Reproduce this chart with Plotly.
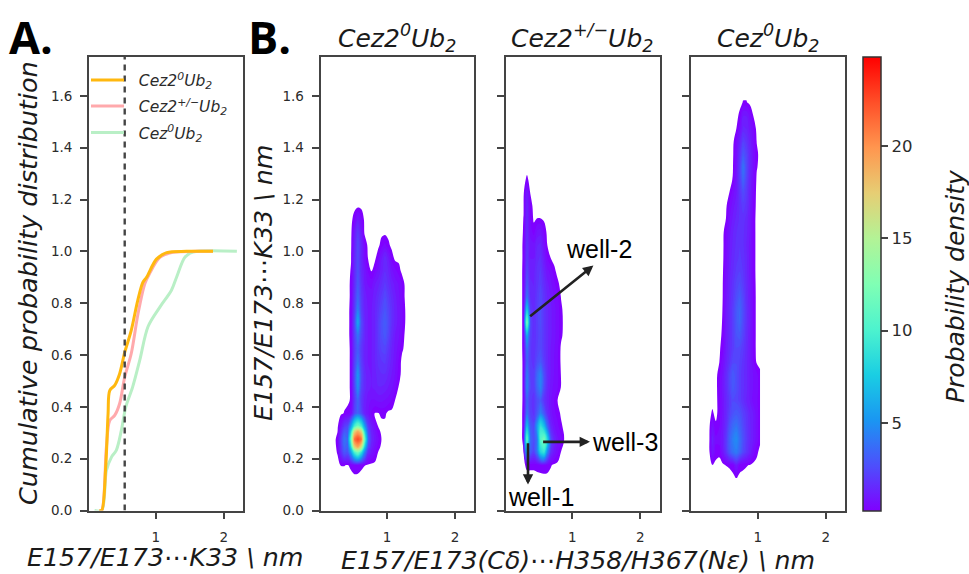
import plotly.graph_objects as go

W, H = 969, 574
FONT = "DejaVu Sans"
TXT = "#2b2b2b"

# --- panel A: cumulative curves
names = ["<i>Cez2<sup>0</sup>Ub<sub>2</sub></i>", "<i>Cez2<sup>+/−</sup>Ub<sub>2</sub></i>", "<i>Cez<sup>0</sup>Ub<sub>2</sub></i>"]
titles = names
cdf_colors = ["#FFB80F", "#FFA9AC", "#B9EFC6"]
cdf_x0 = [0.17, 0.206, 0.265, 0.30, 0.324, 0.397, 0.47, 0.544, 0.64, 0.735, 0.81, 0.865, 1.01, 1.16, 1.45, 1.84]
cdf_y0 = [0.0, 0.0, 0.167, 0.374, 0.463, 0.483, 0.528, 0.61, 0.695, 0.81, 0.88, 0.90, 0.97, 0.995, 1.0, 1.0]
cdf_x1 = [0.17, 0.206, 0.275, 0.324, 0.397, 0.47, 0.544, 0.64, 0.74, 0.84, 0.91, 1.06, 1.25, 1.6, 1.84]
cdf_y1 = [0.0, 0.0, 0.244, 0.347, 0.367, 0.413, 0.515, 0.606, 0.76, 0.876, 0.915, 0.977, 0.996, 1.0, 1.0]
cdf_x2 = [0.10, 0.206, 0.275, 0.35, 0.42, 0.495, 0.56, 0.66, 0.765, 0.887, 1.06, 1.23, 1.305, 1.43, 1.545, 2.19]
cdf_y2 = [0.0, 0.0, 0.154, 0.206, 0.232, 0.309, 0.40, 0.476, 0.58, 0.71, 0.785, 0.85, 0.90, 0.978, 0.997, 1.0]
cutoff_x = [0.544, 0.544]
cutoff_y = [0.0, 1.75]

# --- panel B: density grids (rows bottom to top)
rows_y = [0.125 + 0.05 * i for i in range(31)]

x_a = [.22, .27, .32, .37, .42, .47, .52, .57, .62, .67, .72, .77, .82, .87, .92, .97, 1.02, 1.07, 1.12, 1.17, 1.22, 1.27, 1.32]
y_a = [.125, .175, .225, .245, .275, .305, .325, .375, .425, .475, .525, .575, .625, .675, .725, .775, .825, .875, .925, .975, 1.025, 1.075, 1.125, 1.175]
z_a = [
    [],
    [0, 0, .13, .13, .1, .2, .4, .35, .2, .13, .05],
    [0, .15, 1.6, 3, 2.8, 5.5, 10, 12, 9, 4.5, 1.6, .9, .5, .1],
    [0, .2, 1.8, 3.5, 3.2, 8, 17, 19, 16, 7.5, 2.6, 1.2, .7, .3],
    [0, .25, 2, 4, 3.5, 11, 21, 22.5, 21, 11, 3.5, 1.5, .9, .5, .1],
    [0, .1, 1.4, 3, 3, 8, 17, 19, 17, 8, 2.8, 1.3, .8, .3],
    [0, 0, .9, 2, 2.5, 5.5, 10, 12, 10, 5.5, 2.2, 1.1, .6, .1],
    [0, 0, .02, .15, .3, .6, 2.5, 3.5, 2.5, 1.2, .8, .4, .1, .1, .2, .2],
    [0, 0, 0, 0, 0, .2, 2, 3.5, 2, 1.2, .9, .7, .7, .8, .8, .7, .6, .4, .1],
    [0, 0, 0, 0, 0, .2, 2.3, 5, 2.3, 1.5, 1.1, 1, 1.1, 1.3, 1.3, 1.2, 1, .8, .5, .1],
    [0, 0, 0, 0, 0, .2, 2.5, 5.3, 2.5, 1.5, 1.1, 1, 1.2, 1.5, 1.6, 1.6, 1.3, 1, .7, .3],
    [0, 0, 0, 0, 0, .2, 2.2, 3.8, 2.2, 1.3, 1, 1, 1.3, 1.7, 1.9, 2, 1.6, 1.2, .8, .4],
    [0, 0, 0, 0, 0, .2, 2, 3.2, 2, 1.3, 1, 1, 1.3, 1.9, 2.3, 2.4, 1.9, 1.3, .9, .6, .2],
    [0, 0, 0, 0, 0, .25, 2.2, 4, 2.4, 1.4, 1, 1, 1.3, 2, 2.6, 3, 2.3, 1.5, 1, .8, .4],
    [0, 0, 0, 0, 0, .25, 2.4, 6, 2.6, 1.4, 1, 1, 1.3, 2, 2.7, 3.2, 2.5, 1.7, 1.2, .9, .5, .1],
    [0, 0, 0, 0, 0, .25, 2, 4.5, 2.2, 1.3, 1, 1, 1.3, 1.8, 2.4, 2.9, 2.3, 1.7, 1.2, .9, .5, .1],
    [0, 0, 0, 0, 0, .2, 1.8, 3.5, 2, 1.2, .9, .9, 1.2, 1.6, 2, 2.5, 2, 1.5, 1.1, .8, .5],
    [0, 0, 0, 0, 0, .2, 1.5, 3, 1.8, 1, .7, .6, 1, 1.2, 1.6, 2, 1.6, 1.2, .9, .7, .4],
    [0, 0, 0, 0, 0, .15, 1.5, 2.7, 1.5, .9, .4, .1, .4, .8, 1.2, 1.6, 1.3, .8, .5, .3],
    [0, 0, 0, 0, 0, .1, 1.5, 2.5, 1.4, .6, .1, 0, 0, .4, 1, 1.5, 1, .3],
    [0, 0, 0, 0, 0, .05, 1.2, 2.5, 1.4, .5, 0, 0, 0, 0, .3, .5, .2],
    [0, 0, 0, 0, 0, 0, 1, 2, 1],
    [0, 0, 0, 0, 0, 0, .3, 1, .5],
    [],
]

x_b = [.235, .285, .335, .385, .435, .485, .535, .585, .635, .685, .735, .785, .835, .885]
z_b = [
    [],
    [0, .05, .2, .2, .2, .25, .3, .35, .3, .15, .05],
    [0, .1, 6, 3, 2.2, 4, 8, 9, 4.5, 1.6, .9, .5, .1],
    [0, .2, 11, 3.5, 2.6, 4, 10.5, 12, 8, 2.5, 1.3, .8, .55, .1],
    [0, .2, 7, 3, 2.4, 5.5, 9, 7, 3.5, 1.4, .8, .5, .2],
    [0, .2, 4, 2.2, 1.8, 3, 4.5, 3, 1.6, .9, .5, .3, .05],
    [0, .18, 3.5, 2, 1.8, 2.6, 3, 1.9, 1.2, .8, .4, .1],
    [0, .18, 4.5, 2.3, 2, 3.5, 4.6, 2.5, 1.4, .9, .6, .45, .1],
    [0, .18, 4.3, 2.2, 2, 3.6, 4.6, 2.6, 1.5, 1, .7, .5, .1],
    [0, .18, 3.4, 2, 1.8, 2.6, 3, 2.1, 1.4, 1, .7, .45, .05],
    [0, .2, 4, 2, 1.7, 2.2, 2.5, 1.9, 1.4, 1, .75, .5, .05],
    [0, .2, 6, 2.2, 1.6, 2.1, 2.5, 1.9, 1.4, 1.1, .8, .6, .2],
    [0, .2, 12, 2.4, 1.6, 2.1, 2.6, 1.9, 1.4, 1.1, .8, .6, .25],
    [0, .2, 7.5, 2, 1.5, 2.1, 2.6, 1.9, 1.4, 1.1, .8, .6, .2],
    [0, .2, 4, 1.6, 1.4, 2, 2.5, 1.8, 1.3, 1, .7, .5, .1],
    [0, .2, 3, 1.4, 1.3, 1.8, 2.2, 1.6, 1.1, .8, .5, .2],
    [0, .2, 2.4, 1.2, 1.2, 1.7, 2, 1.3, .8, .6, .2],
    [0, .18, 2, 1, 1, 1.5, 1.7, 1, .4, .1],
    [0, .18, 1.8, .9, .8, 1.3, 1.4, .7, .1],
    [0, .15, 1.6, .6, .3, .8, .9, .4],
    [0, .13, 1.5, .45, .05, .13, .13, .05],
    [0, .1, 1.3, .3],
    [0, .05, 1, .1],
    [0, 0, .2],
    [],
    [],
    [],
    [],
    [],
    [],
    [],
]

x_c = [.285, .335, .385, .435, .485, .535, .585, .635, .685, .735, .785, .835, .885, .935, .985, 1.035]
z_c = [
    [0, 0, 0, 0, 0, 0, 0, 0, .15],
    [0, .11, 0, 0, 0, .13, .16, .3, 1, .3, .2, .14, .1],
    [0, .9, .3, .2, .8, 1.7, 2.9, 3.8, 4.2, 3.4, 2.4, 1.8, 1.2, .6, .2],
    [0, 1.2, .5, .6, 1, 1.9, 3.3, 4.3, 4.8, 3.8, 2.7, 2, 1.4, 1, .6, .2],
    [0, .7, .2, .4, .9, 1.6, 2.8, 3.6, 4, 3.3, 2.5, 1.9, 1.4, 1, .6, .2],
    [0, .18, 0, .3, .8, 1.4, 2.2, 2.8, 3, 2.8, 2.2, 1.8, 1.3, 1, .6, .2],
    [0, 0, 0, .3, .8, 1.4, 2, 2.5, 2.4, 2.1, 1.7, 1.3, 1, .6, .5, .15],
    [0, 0, 0, .35, .9, 1.5, 2.3, 3, 2.6, 2.1, 1.7, 1.4, 1, .7, .6, .2],
    [0, 0, 0, .3, .8, 1.5, 2.3, 3.1, 2.6, 2.1, 1.7, 1.4, 1, .7, .5, .2],
    [0, 0, 0, .1, .6, 1.2, 1.8, 2.4, 2.5, 2.2, 1.8, 1.4, 1, .45, .05],
    [0, 0, 0, .05, .3, 1.1, 1.6, 2.1, 2.5, 2.4, 2, 1.5, 1, .4],
    [0, 0, 0, 0, .2, 1, 1.5, 2.1, 2.8, 3, 2.3, 1.6, 1, .4],
    [0, 0, 0, 0, .15, 1, 1.5, 2.1, 3, 3.5, 2.5, 1.7, 1.1, .4],
    [0, 0, 0, 0, .13, 1, 1.5, 2.1, 3, 3.5, 2.6, 1.7, 1.1, .4],
    [0, 0, 0, 0, .12, .9, 1.4, 1.9, 2.6, 3.1, 2.4, 1.6, 1, .4],
    [0, 0, 0, 0, .1, .8, 1.3, 1.8, 2.3, 2.6, 2.1, 1.5, 1, .35],
    [0, 0, 0, 0, .05, .7, 1.2, 1.6, 2, 2.2, 1.9, 1.4, .9, .3],
    [0, 0, 0, 0, 0, .6, 1.1, 1.5, 1.8, 2, 1.8, 1.4, .9, .3],
    [0, 0, 0, 0, 0, .5, 1, 1.4, 1.7, 1.9, 1.7, 1.3, .9, .3],
    [0, 0, 0, 0, 0, .4, .9, 1.3, 1.6, 1.8, 1.7, 1.4, 1, .3],
    [0, 0, 0, 0, 0, .13, .7, 1.1, 1.4, 1.7, 1.8, 1.5, 1, .3],
    [0, 0, 0, 0, 0, .05, .5, .9, 1.2, 1.7, 2.1, 1.8, 1.1, .4],
    [0, 0, 0, 0, 0, 0, .13, .6, 1, 1.8, 2.6, 2, 1.2, .5],
    [0, 0, 0, 0, 0, 0, 0, .15, .9, 2, 3.5, 2.3, 1.3, .6, .05],
    [0, 0, 0, 0, 0, 0, 0, .1, .8, 2, 4, 2.5, 1.4, .7, .15],
    [0, 0, 0, 0, 0, 0, 0, .05, .7, 1.7, 3, 2.3, 1.4, .7, .2],
    [0, 0, 0, 0, 0, 0, 0, 0, .5, 1.2, 2.2, 1.8, 1.2, .6, .1],
    [0, 0, 0, 0, 0, 0, 0, 0, .1, .6, 1.4, 1.3, .9, .45],
    [0, 0, 0, 0, 0, 0, 0, 0, 0, .2, 1, 1, .6, .1],
    [0, 0, 0, 0, 0, 0, 0, 0, 0, 0, .14, .14],
    [],
]

rainbow = ["#8000ff", "#4d4ffc", "#1a96f2", "#1acee3", "#4df3ce", "#80ffb4", "#b3f396", "#e6ce74", "#ff964f", "#ff4f28", "#ff0000"]
y_ticks = [0.0, 0.2, 0.4, 0.6, 0.8, 1.0, 1.2, 1.4, 1.6]
x_ticks = [1, 2]
cbar_ticks = [5, 10, 15, 20]
cbar_min, cbar_max = 0.24, 24.8
level = 0.12
level_step = 0.3

def pad(rows, n):
    return [list(r) + [0] * (n - len(r)) for r in rows]

plain_scale = [[i / 10, c] for i, c in enumerate(rainbow)]
t0 = level / cbar_max
white_scale = [[0, "#ffffff"], [t0 * 0.999, "#ffffff"]] + [[t0 + (1 - t0) * i / 10, c] for i, c in enumerate(rainbow)]

fig = go.Figure()
legend_ids = ["legend", "legend2", "legend3"]
for i in (2, 1, 0):
    x, y = [(cdf_x0, cdf_y0), (cdf_x1, cdf_y1), (cdf_x2, cdf_y2)][i]
    fig.add_trace(go.Scatter(x=x, y=y, mode="lines", name="\u00a0\u00a0" + names[i], legend=legend_ids[i],
                             line=dict(color=cdf_colors[i], width=3, shape="spline", smoothing=0.9), xaxis="x", yaxis="y"))
fig.add_trace(go.Scatter(x=cutoff_x, y=cutoff_y, mode="lines", showlegend=False, line=dict(color="#444444", width=2.4, dash="6px,5px"), xaxis="x", yaxis="y"))

for k, (x, y, z) in enumerate([(x_a, y_a, z_a), (x_b, rows_y, z_b), (x_c, rows_y, z_c)], start=2):
    fig.add_trace(go.Contour(
        x=x, y=y[:len(z)], z=pad(z, len(x)), zmin=0, zmax=cbar_max, colorscale=white_scale, showscale=False,
        autocontour=False, contours=dict(start=level, end=cbar_max, size=level_step, coloring="fill", showlines=False),
        line=dict(width=0, smoothing=1), hoverinfo="skip", xaxis=f"x{k}", yaxis=f"y{k}"))

fig.add_trace(go.Scatter(
    x=[1, 1], y=[cbar_min, cbar_min], mode="markers", showlegend=False, xaxis="x4", yaxis="y4", hoverinfo="skip",
    marker=dict(size=1, opacity=0, color=[cbar_min, cbar_max], cmin=cbar_min, cmax=cbar_max, colorscale=plain_scale, showscale=True,
                colorbar=dict(x=863 / W, xanchor="left", xpad=0, ypad=0, y=1 - 511 / H, yanchor="bottom", len=454 / H, thickness=18,
                              tickvals=cbar_ticks, ticks="outside", ticklen=7, tickwidth=1.5, tickcolor="#444444",
                              outlinecolor="#333333", outlinewidth=1.5, tickfont=dict(family=FONT, size=16.5, color=TXT)))))

def ax_x(l, r, anchor, **kw):
    return dict(domain=[l / W, r / W], range=[0.02, 2.28], anchor=anchor, tickvals=x_ticks, ticks="outside", ticklen=7, tickwidth=1.5, tickcolor="#444444",
                ticklabelstandoff=6, showline=True, linecolor="#444444", linewidth=1.8, mirror=True, showgrid=False, zeroline=False,
                tickfont=dict(family=FONT, size=13.5, color=TXT), **kw)

def ax_y(anchor, labels=True, **kw):
    return dict(domain=[1 - 510.5 / H, 1 - 57 / H], range=[0, 1.75], anchor=anchor, tickvals=y_ticks, tickformat=".1f", ticks="outside", ticklen=7, tickwidth=1.5,
                ticklabelstandoff=5, tickcolor="#444444", showline=True, linecolor="#444444", linewidth=1.8, mirror=True, showgrid=False, zeroline=False, showticklabels=labels,
                tickfont=dict(family=FONT, size=13.5, color=TXT), **kw)

def ann_text(text, px, py, size, family=FONT, angle=0, color="#1a1a1a", anchor="center"):
    return dict(text=text, x=px / W, y=1 - py / H, xref="paper", yref="paper", showarrow=False, xanchor=anchor, yanchor="middle",
                textangle=angle, font=dict(family=family, size=size, color=color))

def arrow(x0, y0, x1, y1):
    return dict(x=x1, y=y1, ax=x0, ay=y0, xref="x3", yref="y3", axref="x3", ayref="y3", text="", showarrow=True,
                arrowhead=2, arrowsize=0.8, arrowwidth=2.6, arrowcolor="#222222")

def legend_box(py):
    return dict(x=86 / W, y=1 - py / H, xanchor="left", yanchor="middle", bgcolor="rgba(0,0,0,0)",
                font=dict(family=FONT, size=15.5, color=TXT), itemwidth=33)

annotations = [
    ann_text("<b>A.</b>", 31, 36, 45, "Open Sans", color="#000000"),
    ann_text("<b>B.</b>", 269, 36, 45, "Open Sans", color="#000000"),
    ann_text(titles[0], 397, 38, 25),
    ann_text(titles[1], 582, 38, 25),
    ann_text(titles[2], 768, 38, 25),
    ann_text("<i>Cumulative probability distribution</i>", 28, 283, 25.5, angle=-90),
    ann_text("<i>E157/E173⋯K33 \\ nm</i>", 165, 557, 25.3),
    ann_text("<i>E157/E173⋯K33 \\ nm</i>", 263, 283, 25.3, angle=-90),
    ann_text("<i>E157/E173(Cδ)⋯H358/H367(Nε) \\ nm</i>", 578, 560, 25.2),
    ann_text("<i>Probability density</i>", 955, 286, 25, angle=-90),
    ann_text("well-2", 599, 249, 25, "Liberation Sans", color="#000000"),
    ann_text("well-3", 625, 442, 25, "Liberation Sans", color="#000000"),
    ann_text("well-1", 541, 497, 25, "Liberation Sans", color="#000000"),
    arrow(0.36, 0.745, 1.31, 0.945),
    arrow(0.55, 0.265, 1.26, 0.265),
    arrow(0.35, 0.265, 0.35, 0.10),
]

fig.update_layout(
    width=W, height=H, margin=dict(l=0, r=0, t=0, b=0, autoexpand=False), paper_bgcolor="white", plot_bgcolor="white",
    font=dict(family=FONT, color=TXT),
    xaxis=ax_x(89, 243, "y"), yaxis=ax_y("x"),
    xaxis2=ax_x(320.5, 474, "y2"), yaxis2=ax_y("x2"),
    xaxis3=ax_x(505.5, 659.5, "y3"), yaxis3=ax_y("x3", labels=False),
    xaxis4=ax_x(691, 845, "y4"), yaxis4=ax_y("x4", labels=False),
    showlegend=True,
    legend=legend_box(80.5), legend2=legend_box(106.5), legend3=legend_box(133),
    annotations=annotations,
)
fig.write_html("out.html", config=dict(displayModeBar=False), post_script="document.body.style.margin='0';")
